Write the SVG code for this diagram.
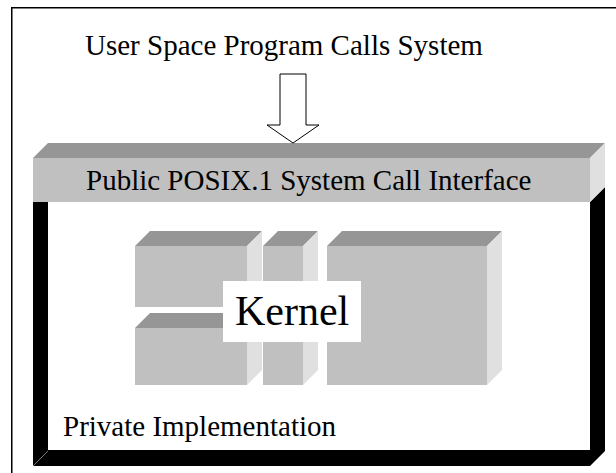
<svg xmlns="http://www.w3.org/2000/svg" width="616" height="473" viewBox="0 0 616 473">
  <style>
    .label { font-family: "Liberation Serif", "Times New Roman", serif; fill: #000; }
    .front { fill: #c0c0c0; }
    .top { fill: #969696; }
    .side { fill: #e0e0e0; }
  </style>

  <!-- page background and outer frame -->
  <rect x="0" y="0" width="616" height="473" fill="#fff"/>
  <g id="frame">
    <rect x="11.75" y="7.75" width="640" height="500" fill="none" stroke="#000" stroke-width="1.5"/>
  </g>

  <!-- title -->
  <g id="user-space">
    <text class="label" x="85" y="55" font-size="29">User Space Program Calls System</text>
  </g>

  <!-- private implementation box: thick black front frame with right side face -->
  <g id="private-implementation">
    <polygon points="33,202 33,466 590,466 605,451 605,187 590,202" fill="#000"/>
    <rect x="48" y="202" width="542" height="248" fill="#fff"/>
    <line x1="33" y1="466" x2="48" y2="451" stroke="#9a9a9a" stroke-width="0.8"/>
    <text class="label" x="63" y="436" font-size="29">Private Implementation</text>
  </g>

  <!-- public interface slab -->
  <g id="system-call-interface">
    <polygon class="top" points="33,158 48,143 605,143 590,158"/>
    <polygon class="side" points="590,158 605,143 605,187 590,202"/>
    <rect class="front" x="33" y="158" width="557" height="44"/>
    <text class="label" x="86" y="190" font-size="29">Public POSIX.1 System Call Interface</text>
  </g>

  <!-- kernel building blocks -->
  <g id="kernel-block-1">
    <polygon class="top" points="135,246 150,231 262,231 247,246"/>
    <polygon class="side" points="247,246 262,231 262,292 247,307"/>
    <rect class="front" x="135" y="246" width="112" height="61"/>
  </g>
  <g id="kernel-block-2">
    <polygon class="top" points="135,328 150,313 262,313 247,328"/>
    <polygon class="side" points="247,328 262,313 262,370 247,385"/>
    <rect class="front" x="135" y="328" width="112" height="57"/>
  </g>
  <g id="kernel-block-3">
    <polygon class="top" points="263,246 278,231 318,231 303,246"/>
    <polygon class="side" points="303,246 318,231 318,370 303,385"/>
    <rect class="front" x="263" y="246" width="40" height="139"/>
  </g>
  <g id="kernel-block-4">
    <polygon class="top" points="327,246 342,231 502,231 487,246"/>
    <polygon class="side" points="487,246 502,231 502,370 487,385"/>
    <rect class="front" x="327" y="246" width="160" height="139"/>
  </g>
  <g id="kernel-label">
    <rect x="223" y="281" width="138" height="61" fill="#fff"/>
    <text class="label" x="235" y="325" font-size="42">Kernel</text>
  </g>

  <!-- call flowing down into the interface -->
  <g id="connectors">
    <polygon points="280,74 306,74 306,125 319,125 293,143 267,125 280,125" fill="#fff" stroke="#000" stroke-width="1"/>
  </g>
</svg>
